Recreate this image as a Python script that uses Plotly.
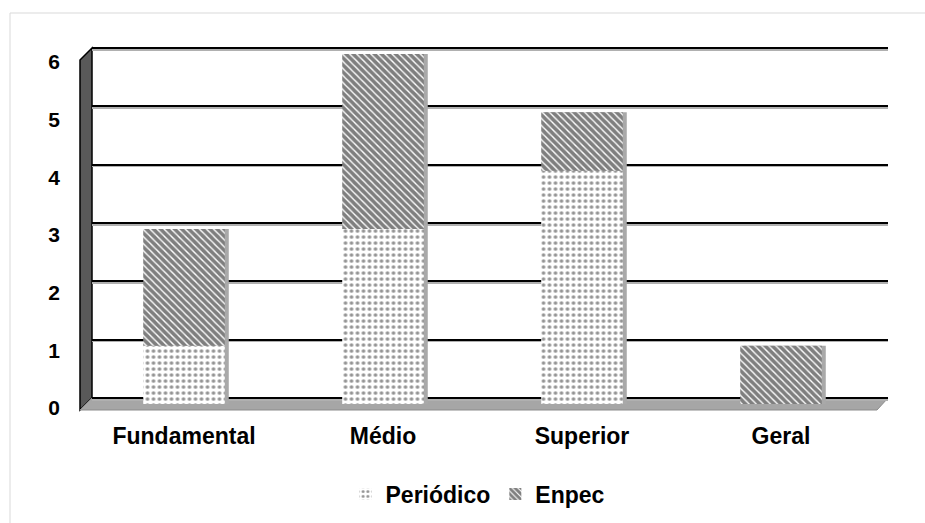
import plotly.graph_objects as go

# Data
categorias = ["Fundamental", "Médio", "Superior", "Geral"]
periodico = [1, 3, 4, 0]
enpec = [2, 3, 1, 1]
y_ticks = [0, 1, 2, 3, 4, 5, 6]

W, H = 925, 523


def fx(px):
    return px / W


def fy(py):
    return 1 - py / H


FONT = "Liberation Sans, Arial, sans-serif"
totais = [p + e for p, e in zip(periodico, enpec)]

BAR_W = 0.41
SHIFT = 0.02

# back wall: value 0 at y=398 px, value 6 at y=48 px; padded range keeps the top gridline
UNIT = (398 - 48) / 6
PAD = 0.05

fig = go.Figure()

# empty traces so that the gridline and label axes get their own subplots
for xa, ya in (("x", "y"), ("x2", "y2"), ("x4", "y4")):
    fig.add_trace(go.Scatter(x=[None], y=[None], xaxis=xa, yaxis=ya, mode="markers",
                             showlegend=False, hoverinfo="skip"))

# gray side of each column (3D look)
fig.add_trace(go.Bar(
    x=categorias, y=totais, xaxis="x3", yaxis="y3",
    width=BAR_W, offset=-BAR_W / 2 + SHIFT,
    marker=dict(color="#a9a9a9", line=dict(width=0)),
    showlegend=False, hoverinfo="skip",
))
fig.add_trace(go.Bar(
    name="Periódico", x=categorias, y=periodico, xaxis="x3", yaxis="y3",
    width=BAR_W, offset=-BAR_W / 2,
    marker=dict(color="white", line=dict(width=0),
                pattern=dict(shape=".", fgcolor="#2a2a2a", size=6, solidity=0.3)),
))
fig.add_trace(go.Bar(
    name="Enpec", x=categorias, y=enpec, base=periodico, xaxis="x3", yaxis="y3",
    width=BAR_W, offset=-BAR_W / 2,
    marker=dict(color="white", line=dict(width=0),
                pattern=dict(shape="\\", fgcolor="black", size=5, solidity=0.72)),
))

hidden_x = dict(visible=False, range=[0, 1], fixedrange=True, automargin=False)

# left wall and floor
wall = (f"M {fx(80)} {fy(60)} L {fx(92)} {fy(48)} L {fx(92)} {fy(398)} "
        f"L {fx(80)} {fy(410)} Z")
floor = (f"M {fx(80)} {fy(410)} L {fx(92)} {fy(398)} L {fx(888)} {fy(398)} "
         f"L {fx(877)} {fy(410)} Z")

grid_common = dict(range=[-PAD, 6 + PAD], tickvals=y_ticks, showgrid=True, gridwidth=2,
                   showticklabels=False, ticks="", fixedrange=True, automargin=False)

fig.update_layout(
    width=W, height=H,
    margin=dict(l=0, r=0, t=0, b=0, pad=0, autoexpand=False),
    paper_bgcolor="white", plot_bgcolor="rgba(0,0,0,0)",
    barmode="overlay",
    font=dict(family=FONT, color="black", size=20),
    # shadow of the gridlines
    xaxis=dict(domain=[fx(92), fx(888)], anchor="y", **hidden_x),
    yaxis=dict(domain=[fy(399.5 + PAD * UNIT), fy(49.5 - PAD * UNIT)], anchor="x",
               gridcolor="#b0b0b0", zeroline=False, **grid_common),
    # back wall gridlines
    xaxis2=dict(domain=[fx(92), fx(888)], anchor="y2", **hidden_x),
    yaxis2=dict(domain=[fy(398 + PAD * UNIT), fy(48 - PAD * UNIT)], anchor="x2",
                gridcolor="black", zeroline=True, zerolinecolor="black",
                zerolinewidth=2, **grid_common),
    # columns
    xaxis3=dict(domain=[fx(84.5), fx(880.5)], anchor="y3", type="category",
                range=[-0.5, 3.5], showgrid=False, zeroline=False, showline=False,
                ticks="", ticklabelstandoff=16, automargin=False,
                tickfont=dict(family=FONT, size=23, weight="bold", color="black")),
    yaxis3=dict(domain=[fy(404), fy(54)], anchor="x3", range=[0, 6],
                visible=False, fixedrange=True, automargin=False),
    # value labels on the front edge of the wall
    xaxis4=dict(domain=[fx(80), fx(878)], anchor="y4", **hidden_x),
    yaxis4=dict(domain=[fy(408), fy(62)], anchor="x4", range=[0, 6],
                tickvals=y_ticks, showgrid=False, zeroline=False, showline=False,
                ticks="", ticklabelstandoff=19, automargin=False,
                tickfont=dict(family=FONT, size=21, weight="bold", color="black"),
                fixedrange=True),
    legend=dict(orientation="h", x=fx(478), xanchor="center", y=fy(494),
                yanchor="middle", itemwidth=30,
                font=dict(family=FONT, size=23, weight="bold", color="black"),
                bgcolor="rgba(0,0,0,0)"),
    shapes=[
        dict(type="rect", xref="paper", yref="paper", x0=fx(10), y0=fy(13),
             x1=fx(940), y1=fy(540), line=dict(color="#d9d9d9", width=1),
             layer="below"),
        dict(type="path", path=wall, xref="paper", yref="paper",
             fillcolor="#595959", line=dict(color="black", width=1.5),
             layer="below"),
        dict(type="path", path=floor, xref="paper", yref="paper",
             fillcolor="#a6a6a6", line=dict(color="#8c8c8c", width=1),
             layer="below"),
    ],
)

fig.write_html("out.html")
